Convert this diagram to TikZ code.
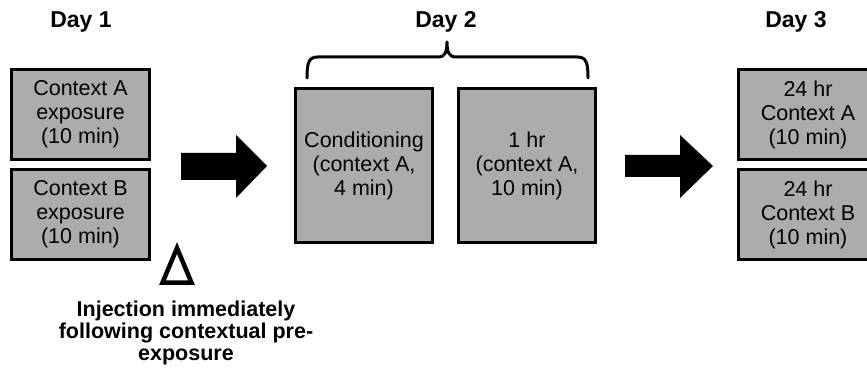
\documentclass[tikz,border=0pt]{standalone}
\usepackage{fontspec}
\setmainfont{Liberation Sans}
\definecolor{boxgray}{RGB}{172,172,172}
\begin{document}
\begin{tikzpicture}[x=1pt,y=-1pt,
  stagebox/.style={draw=black, fill=boxgray, line width=3.5pt, align=center,
    inner sep=0pt, font=\fontsize{21.5}{24}\selectfont},
  daylabel/.style={font=\bfseries\fontsize{23}{26}\selectfont, inner sep=0pt},
  bigarrow/.style={fill=black, draw=none}]
\useasboundingbox (0,0) rectangle (867,374);
\fill[white] (0,0) rectangle (867,374);

% titles
\node[daylabel] (d1) at (81,22) {Day 1};
\node[daylabel] (d2) at (446,22) {Day 2};
\node[daylabel] (d3) at (796,22) {Day 3};

% Day 1 boxes
\node[stagebox, minimum width=138pt, minimum height=90pt] (a1) at (80.5,114.5)
  {Context A\\exposure\\(10 min)};
\node[stagebox, minimum width=138pt, minimum height=90pt] (b1) at (80.5,214.5)
  {Context B\\exposure\\(10 min)};

% Day 2 boxes
\node[stagebox, minimum width=137pt, minimum height=154pt] (c2) at (364,165.5)
  {Conditioning\\(context A,\\4 min)};
\node[stagebox, minimum width=137pt, minimum height=154pt] (h2) at (527,165.5)
  {1 hr\\(context A,\\10 min)};

% Day 3 boxes
\node[stagebox, minimum width=139pt, minimum height=90pt] (a3) at (808,114.5)
  {24 hr\\Context A\\(10 min)};
\node[stagebox, minimum width=139pt, minimum height=90pt] (b3) at (808,214.5)
  {24 hr\\Context B\\(10 min)};

% brace over Day 2
\coordinate (brl) at (307,78);
\coordinate (brr) at (588,78);
\draw[line width=3pt, line cap=round, line join=round]
  (brl) .. controls (307,62) and (309,57) .. (318,57)
  -- (438,57) .. controls (445,57) and (447,52) .. (447,42)
  .. controls (447,52) and (449,57) .. (456,57)
  -- (577,57) .. controls (586,57) and (588,62) .. (brr);

% big arrows
\fill[bigarrow] (181,153) -- (236,153) -- (236,135) -- (267,166) -- (236,198)
  -- (236,180) -- (181,180) -- cycle;
\fill[bigarrow] (625,155) -- (680,155) -- (680,135) -- (713,166) -- (680,198)
  -- (680,177) -- (625,177) -- cycle;

% injection triangle
\draw[line width=4.5pt, line join=miter] (177,248) -- (162.5,282.7) -- (191.5,282.7) -- cycle;

\node[font=\bfseries\fontsize{21.5}{22}\selectfont, align=center, inner sep=0pt]
  (inj) at (186,333) {Injection immediately\\following contextual pre-\\exposure};
\end{tikzpicture}
\end{document}
